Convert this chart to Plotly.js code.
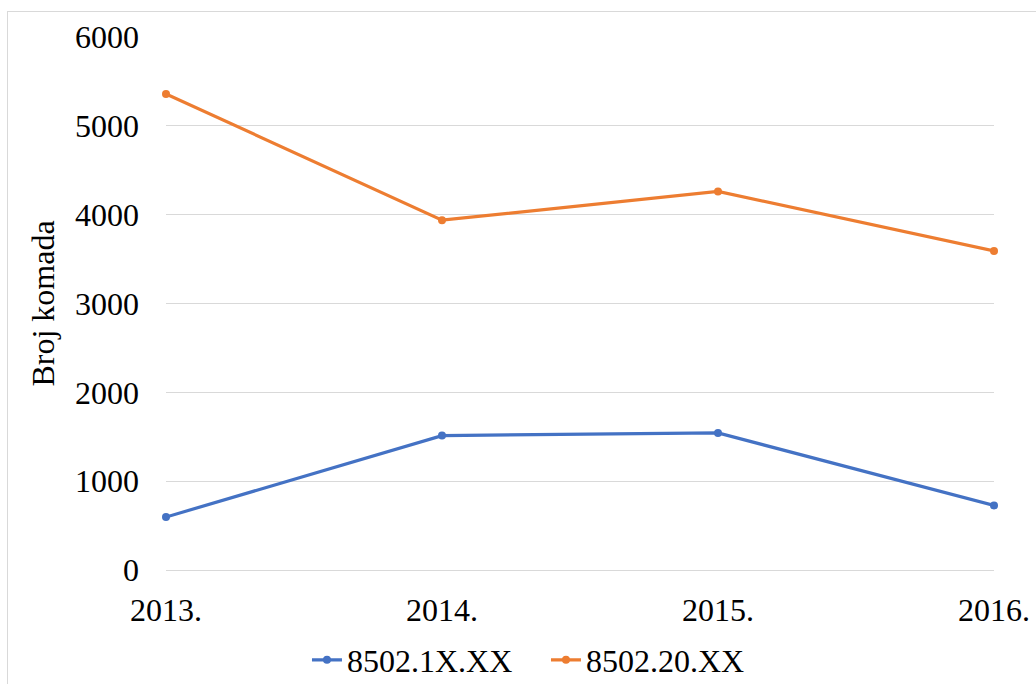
<!DOCTYPE html>
<html>
<head>
<meta charset="utf-8">
<script src="https://cdn.plot.ly/plotly-3.0.1.min.js"></script>
<style>
  html, body { margin: 0; padding: 0; background: #ffffff; }
  #wrap { position: relative; width: 1036px; height: 684px; overflow: hidden; }
  #frame { position: absolute; left: 7px; top: 11px; width: 1100px; height: 800px; border: 1px solid #d9d9d9; box-sizing: border-box; pointer-events: none; z-index: 5; }
  #chart { position: absolute; left: 0; top: 0; width: 1036px; height: 684px; }
</style>
</head>
<body>
<div id="wrap">
  <div id="chart"></div>
  <div id="frame"></div>
</div>
<script>
const categories = ["2013.", "2014.", "2015.", "2016."];
const seriesNames = ["8502.1X.XX", "8502.20.XX"];
const series1Values = [596, 1513, 1543, 727];
const series2Values = [5359, 3938, 4261, 3592];
const yTickValues = [0, 1000, 2000, 3000, 4000, 5000, 6000];
const yAxisTitle = "Broj komada";

const fontFamily = "Liberation Serif, Times New Roman, serif";

const traces = [
  {
    x: categories, y: series1Values, name: seriesNames[0],
    type: "scatter", mode: "lines+markers", cliponaxis: false,
    line: { color: "#4472C4", width: 3.2 },
    marker: { color: "#4472C4", size: 8 }
  },
  {
    x: categories, y: series2Values, name: seriesNames[1],
    type: "scatter", mode: "lines+markers", cliponaxis: false,
    line: { color: "#ED7D31", width: 3.2 },
    marker: { color: "#ED7D31", size: 8 }
  }
];

const layout = {
  width: 1036, height: 684,
  margin: { l: 166, r: 42, t: 37, b: 114, pad: 0 },
  paper_bgcolor: "#ffffff", plot_bgcolor: "#ffffff",
  font: { family: fontFamily, size: 32, color: "#000000" },
  showlegend: true,
  legend: {
    orientation: "h", xref: "container", yref: "container",
    x: 0.527, xanchor: "center", y: 0.035, yanchor: "middle",
    font: { family: fontFamily, size: 32, color: "#000000" },
    itemwidth: 30, entrywidth: 194, tracegroupgap: 0, bgcolor: "rgba(0,0,0,0)"
  },
  xaxis: {
    type: "category", range: [0, 3],
    showgrid: false, zeroline: false, showline: false,
    ticks: "", ticklabelstandoff: 18,
    tickfont: { family: fontFamily, size: 32, color: "#000000" },
    fixedrange: true
  },
  yaxis: {
    range: [0, 6000], tickvals: yTickValues,
    showgrid: true, gridcolor: "#d9d9d9", gridwidth: 1,
    zeroline: true, zerolinecolor: "#d9d9d9", zerolinewidth: 1,
    showline: false, ticks: "", ticklabelstandoff: 26,
    tickfont: { family: fontFamily, size: 32, color: "#000000" },
    title: { text: yAxisTitle, standoff: 10, font: { family: fontFamily, size: 32, color: "#000000" } },
    automargin: false, fixedrange: true
  }
};

Plotly.newPlot("chart", traces, layout, { staticPlot: true, displayModeBar: false });
</script>
</body>
</html>
